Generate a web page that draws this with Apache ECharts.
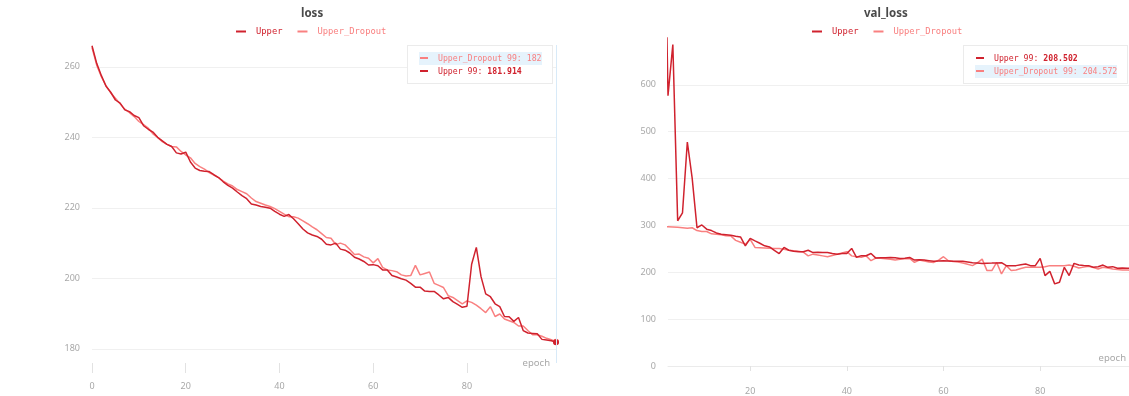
<!DOCTYPE html>
<html>
<head>
<meta charset="utf-8">
<script src="https://cdn.jsdelivr.net/npm/echarts@6/dist/echarts.min.js"></script>
<style>
  html, body { margin: 0; padding: 0; background: #fff; overflow: hidden; }
  body { width: 1129px; height: 396px; position: relative; }
  .panel { position: absolute; top: 0; width: 564px; height: 396px; }
</style>
</head>
<body>
<div id="lossChart" class="panel" style="left:0"></div>
<div id="valChart" class="panel" style="left:576px"></div>
<script>
// Training curves per epoch (0..99)
const seriesNames = ['Upper', 'Upper_Dropout'];
const seriesColors = ['#d0222e', '#f98080'];

const lossUpper = [
  266.0, 261.0, 257.5, 254.5, 252.8, 250.6, 249.7, 247.8, 247.3, 246.2,
  245.6, 243.3, 242.3, 241.5, 240.0, 239.0, 238.0, 237.4, 235.6, 235.3,
  235.8, 233.0, 231.3, 230.6, 230.4, 230.3, 229.4, 228.6, 227.4, 226.4,
  225.6, 224.5, 223.5, 222.6, 221.1, 220.8, 220.4, 220.2, 219.9, 219.0,
  218.2, 217.6, 218.1, 216.9, 215.5, 214.0, 212.9, 212.3, 211.9, 211.1,
  209.7, 209.5, 210.0, 208.3, 208.0, 207.2, 206.0, 205.5, 204.8, 203.8,
  203.9, 203.6, 202.4, 202.4, 200.8, 200.4, 199.9, 199.5, 198.6, 197.5,
  197.5, 196.4, 196.3, 196.3, 195.3, 194.2, 194.6, 193.4, 192.6, 191.8,
  192.1, 204.0, 208.8, 200.5, 195.6, 194.8, 192.8, 192.0, 189.2, 189.1,
  187.8, 188.9, 185.2, 184.5, 184.4, 184.3, 182.7, 182.5, 182.3, 181.914
];
const lossDropout = [
  265.5, 260.5, 257.2, 254.6, 252.6, 251.1, 249.5, 248.0, 247.0, 245.9,
  244.5, 243.6, 242.6, 241.0, 240.0, 238.8, 238.0, 237.4, 237.3, 236.0,
  235.0, 234.2, 232.6, 231.7, 231.0, 230.0, 229.3, 228.6, 227.6, 226.8,
  226.2, 225.2, 224.6, 224.0, 222.8, 221.8, 221.3, 220.8, 220.4, 219.8,
  219.0, 218.2, 217.5, 217.5, 217.1, 216.3, 215.5, 214.6, 213.8, 212.7,
  211.6, 211.4, 209.6, 210.0, 209.5, 208.2, 206.8, 206.9, 206.1, 205.7,
  204.4, 205.6, 203.1, 202.4, 202.2, 201.9, 201.0, 200.7, 200.8, 203.7,
  201.0, 201.4, 201.8, 198.6, 198.0, 197.4, 195.1, 194.6, 193.7, 192.8,
  193.6, 193.2, 192.4, 191.4, 190.3, 192.0, 189.2, 189.9, 188.5, 188.0,
  187.5, 186.5, 186.5, 185.2, 184.0, 184.0, 183.6, 183.0, 182.6, 182.0
];

const valUpper = [
  2400, 1600, 1150, 577, 686, 310, 327, 478, 401, 295,
  301, 292, 289, 284, 281, 280, 279, 277, 275.5, 256.5,
  272.5, 267, 262, 256.5, 254, 247, 240, 253, 247, 245,
  244, 244, 247, 242, 243, 242, 242, 240, 238.7, 240,
  240, 251, 232, 235.5, 235.3, 240.2, 230.3, 231, 231, 231.7,
  231, 229.6, 230, 231.7, 226, 226.8, 226, 224.7, 223.3, 224,
  224.7, 224, 223.3, 223.3, 223.3, 222, 220.5, 220, 219, 219.5,
  219.7, 220, 220.5, 214.2, 214.2, 214.2, 216, 217.6, 214.2, 214.2,
  229.6, 193, 202, 175.3, 178.9, 210.6, 193, 219, 215.4, 214.5,
  214.2, 210.6, 212, 215.4, 210.6, 212, 208.5, 209.1, 208.7, 208.502
];
const valDropout = [
  298, 298, 297.5, 297, 296.5, 296, 295, 294, 295, 289,
  287, 287, 282, 281, 280, 278, 277.6, 268, 264, 260,
  270, 253, 252.5, 252, 251.5, 251, 250.7, 249, 247, 246,
  245, 243, 235, 238.7, 237, 235, 233, 236, 238.7, 241,
  244, 235, 233, 232, 235, 224.7, 230.3, 230, 229, 228,
  226, 228, 229, 229.6, 221.1, 226, 224, 222, 221.1, 226,
  233.2, 224.7, 223, 222, 220, 217, 214.2, 220, 228.1, 203.6,
  203.6, 221.1, 196.4, 214.2, 203.6, 204.9, 208, 210.6, 210.6, 210.6,
  210.6, 212, 214.2, 214.2, 214.2, 214, 215.4, 213, 209.1, 211,
  212.7, 210, 207, 210.6, 209, 207, 206, 205, 204.9, 204.572
];

const epochTicks = [0, 20, 40, 60, 80];
const lossTicks = [180, 200, 220, 240, 260];
const valTicks = [0, 100, 200, 300, 400, 500, 600];

const MONO = '"DejaVu Sans Mono", monospace';
const SANS = '"Noto Sans", sans-serif';
const LABEL_GRAY = '#a8a8a8';
const GRID_GRAY = '#f0f0f0';

function toPoints(values) {
  return values.map((v, i) => [i, v]);
}

function tooltipHtml(params) {
  const rows = params.slice().sort((a, b) => b.value[1] - a.value[1]);
  let html = '<div style="padding:6px 10px 5px 11px;font-family:' + MONO.replace(/"/g, "'") +
    ';font-size:8.2px;line-height:13px;white-space:nowrap">';
  rows.forEach(p => {
    const color = seriesColors[p.seriesIndex];
    const isDrop = p.seriesName === 'Upper_Dropout';
    const bg = isDrop ? 'background:#e6f3fc;' : '';
    const weight = isDrop ? 'normal' : 'bold';
    html += '<div style="height:13px;' + bg + 'color:' + color + '">' +
      '<span style="display:inline-block;width:8px;height:2px;background:' + color +
      ';vertical-align:middle;margin:0 10px 1px 1px"></span>' +
      p.seriesName + ' ' + p.value[0] + ': ' +
      '<span style="font-weight:' + weight + '">' + p.value[1] + '</span></div>';
  });
  return html + '</div>';
}

function buildOption(cfg) {
  return {
    animation: false,
    title: {
      text: cfg.title,
      left: cfg.titleLeft,
      top: 8,
      padding: 0,
      textStyle: { fontFamily: SANS, fontSize: 11.5, fontWeight: 'bold', color: '#4a4a4a' }
    },
    legend: {
      left: 236,
      top: 27,
      padding: 0,
      itemWidth: 10,
      itemHeight: 2,
      itemGap: 15,
      icon: 'rect',
      data: seriesNames.map((n, i) => ({ name: n, textStyle: { color: seriesColors[i] } })),
      textStyle: { fontFamily: MONO, fontSize: 8.8, padding: [0, 0, 0, 5] }
    },
    grid: { left: 92, right: 8, top: cfg.gridTop, bottom: cfg.gridBottom },
    tooltip: {
      trigger: 'axis',
      triggerOn: 'none',
      alwaysShowContent: true,
      transitionDuration: 0,
      padding: 0,
      backgroundColor: '#ffffff',
      borderColor: '#ebebeb',
      borderWidth: 1,
      extraCssText: 'box-shadow:none;border-radius:0;',
      position: () => cfg.tipPos,
      formatter: tooltipHtml,
      axisPointer: { type: 'line', lineStyle: { color: '#d8eaf8', width: 1, type: 'solid' }, label: { show: false } }
    },
    xAxis: {
      type: 'value',
      min: cfg.xMin,
      max: 99,
      name: 'epoch',
      nameLocation: 'end',
      nameGap: -6,
      nameTextStyle: {
        fontFamily: SANS, fontSize: 9.5, color: LABEL_GRAY,
        align: 'right', verticalAlign: cfg.nameVAlign, padding: cfg.namePad
      },
      axisLine: { show: cfg.xLine, lineStyle: { color: '#ebebeb', width: 1 } },
      axisTick: {
        show: true, length: cfg.tickLen,
        customValues: cfg.xTicks,
        lineStyle: { color: '#e2e2e2' }
      },
      axisLabel: {
        customValues: cfg.xTicks,
        margin: cfg.xLabelMargin,
        fontFamily: SANS, fontSize: 9, color: LABEL_GRAY
      },
      splitLine: { show: false }
    },
    yAxis: {
      type: 'value',
      min: cfg.yMin,
      max: cfg.yMax,
      axisLine: { show: false },
      axisTick: { show: false, customValues: cfg.yTicks },
      axisLabel: {
        customValues: cfg.yTicks,
        margin: 12,
        fontFamily: SANS, fontSize: 9, color: LABEL_GRAY
      },
      splitLine: { show: true, lineStyle: { color: GRID_GRAY, width: 1 } }
    },
    series: [
      {
        name: 'Upper', type: 'line', data: toPoints(cfg.upper),
        showSymbol: false, symbol: 'circle', symbolSize: 4,
        lineStyle: { width: 1.5, color: seriesColors[0] },
        itemStyle: { color: seriesColors[0] },
        emphasis: { disabled: true },
        clip: true, z: 3
      },
      {
        name: 'Upper_Dropout', type: 'line', data: toPoints(cfg.dropout),
        showSymbol: false, symbol: 'circle', symbolSize: 3,
        lineStyle: { width: 1.5, color: seriesColors[1] },
        itemStyle: { color: seriesColors[1] },
        emphasis: { disabled: true },
        clip: cfg.dropClip, z: 2
      }
    ]
  };
}

const lossChart = echarts.init(document.getElementById('lossChart'), null, { renderer: 'canvas' });
lossChart.setOption(buildOption({
  title: 'loss', titleLeft: 301,
  gridTop: 45, gridBottom: 396 - 363,
  xMin: 0, xTicks: epochTicks, xLine: false, tickLen: 10, xLabelMargin: 19,
  nameVAlign: 'middle', namePad: [0, 0, 4, 0],
  yMin: 176, yMax: 266.2, yTicks: lossTicks,
  upper: lossUpper, dropout: lossDropout, dropClip: true,
  tipPos: [407, 45]
}));

const valChart = echarts.init(document.getElementById('valChart'), null, { renderer: 'canvas' });
valChart.setOption(buildOption({
  title: 'val_loss', titleLeft: 288,
  gridTop: 38, gridBottom: 396 - 370,
  xMin: 3, xTicks: epochTicks.filter(t => t >= 3), xLine: true, tickLen: 5, xLabelMargin: 21,
  nameVAlign: 'bottom', namePad: [0, 0, 3, 0],
  yMin: 0, yMax: 700, yTicks: valTicks,
  upper: valUpper, dropout: valDropout, dropClip: false,
  tipPos: [387, 45]
}));

lossChart.dispatchAction({ type: 'showTip', seriesIndex: 0, dataIndex: 99 });
valChart.dispatchAction({ type: 'showTip', seriesIndex: 0, dataIndex: 99 });
</script>
</body>
</html>
